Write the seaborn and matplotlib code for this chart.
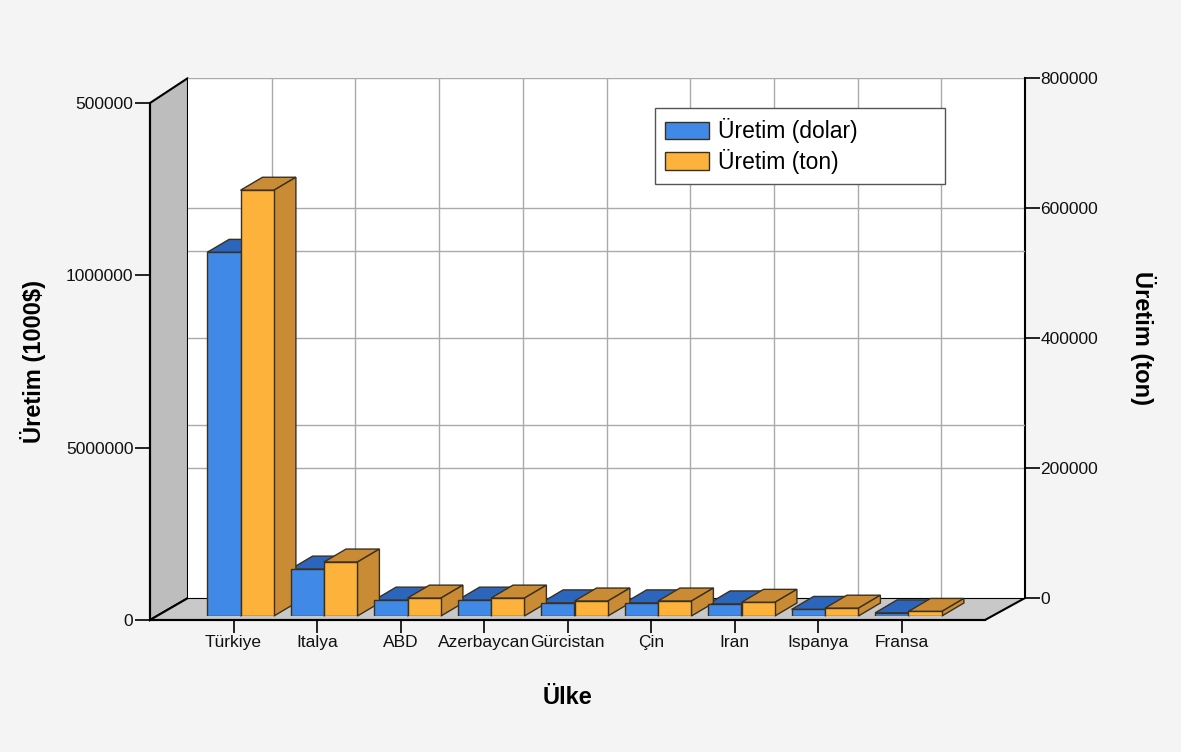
import matplotlib
matplotlib.use("Agg")
import pandas as pd
import matplotlib.pyplot as plt
import seaborn as sns
from matplotlib.patches import Polygon, Patch

# data
countries = ["Türkiye", "Italya", "ABD", "Azerbaycan", "Gürcistan", "Çin", "Iran", "Ispanya", "Fransa"]
uretim_dolar = [10550000, 1360000, 460000, 460000, 380000, 380000, 350000, 190000, 90000]
uretim_ton = [655000, 83000, 27500, 27500, 23000, 23000, 21000, 12000, 7000]
series = ["Üretim (dolar)", "Üretim (ton)"]

left_ticks = [0, 5000000, 10000000, 15000000]
left_tick_labels = ["0", "5000000", "1000000", "500000"]
right_ticks = [0, 200000, 400000, 600000, 800000]

# colours
BLUE, BLUE_DARK = "#4189e6", "#2c66bc"
ORANGE, ORANGE_DARK = "#fdb23c", "#c98c34"
EDGE = "#3a3020"

# layout in pixels of the 1181x752 picture
W, H = 1181, 752
FRONT = (150, 103, 985, 620)    # left wall front edge / floor front edge
BACK = (188, 78, 1025, 598)     # back wall
BARS = (157, 99, 992, 616)      # plane of the bar front faces
BDX, BDY = 22, 13               # bar depth


def box(left, top, right, bottom):
    return [left / W, 1 - bottom / H, (right - left) / W, (bottom - top) / H]


sns.set_theme(style="white")
plt.rcParams["font.family"] = ["Liberation Sans", "DejaVu Sans"]
plt.rcParams["text.color"] = "black"
plt.rcParams["axes.labelcolor"] = "black"

fig = plt.figure(figsize=(W / 100, H / 100), dpi=100)
fig.patch.set_facecolor("#f4f4f4")

# walls and floor
canvas = fig.add_axes([0, 0, 1, 1])
canvas.set_xlim(0, W)
canvas.set_ylim(H, 0)
canvas.axis("off")
fl, ft, fr, fb = FRONT
bl, bt, br, bb = BACK
canvas.add_patch(Polygon([(fl, ft), (bl, bt), (bl, bb), (fl, fb)],
                         closed=True, fc="#bdbdbd", ec="black", lw=1.5))
canvas.add_patch(Polygon([(fl, fb), (bl, bb), (br, bb), (fr, fb)],
                         closed=True, fc="#c8c8c8", ec="black", lw=1.5))

# back wall with both grids and the right axis
wall = fig.add_axes(box(*BACK))
wall_left = wall.twinx()
wall_left.set_ylim(0, 15000000)
wall_left.set_yticks(left_ticks[1:3])
wall_left.tick_params(axis="y", length=0, labelright=False, labelleft=False)
wall_left.grid(True, axis="y", color="#aaaaaa", lw=1)
wall_left.set_xlim(-1, 9)
for s in wall_left.spines.values():
    s.set_visible(False)

wall.set_facecolor("white")
wall.set_xlim(-1, 9)
wall.set_ylim(0, 800000)
wall.set_xticks(range(len(countries)))
wall.tick_params(axis="x", length=0, labelbottom=False)
wall.yaxis.tick_right()
wall.set_yticks(right_ticks)
wall.set_yticklabels([str(t) for t in right_ticks])
wall.tick_params(axis="y", direction="out", length=11, width=1.2, color="black",
                 labelsize=12.5, pad=0, labelcolor="#111111")
wall.grid(True, color="#aaaaaa", lw=1)
for side in ["top", "left", "bottom"]:
    wall.spines[side].set_visible(False)
wall.spines["right"].set_color("black")
wall.spines["right"].set_linewidth(1.5)
wall.yaxis.set_label_position("right")
wall.set_ylabel("Üretim (ton)", rotation=-90, fontsize=17, fontweight="bold",
                labelpad=42)

# bars
df = pd.DataFrame({
    "Ülke": countries * 2,
    "Seri": [series[0]] * len(countries) + [series[1]] * len(countries),
    "Değer": uretim_dolar + uretim_ton,
})
palette = {series[0]: BLUE, series[1]: ORANGE}

ax = fig.add_axes(box(*BARS))
ax2 = ax.twinx()
for axis, name in [(ax, series[0]), (ax2, series[1])]:
    sns.barplot(data=df[df["Seri"] == name], x="Ülke", y="Değer", hue="Seri",
                hue_order=series, order=countries, palette=palette, width=0.8,
                dodge=True, saturation=1, errorbar=None, edgecolor=EDGE,
                linewidth=1, legend=False, ax=axis)
bar_h = BARS[3] - BARS[1]
back_h = BACK[3] - BACK[1]
ax.set_xlim(-1, 9)
ax2.set_xlim(-1, 9)
ax.set_ylim(0, 15000000)
ax2.set_ylim(0, 800000 * bar_h / back_h)
ax.axis("off")
ax2.axis("off")

# 3d top and side faces, placed under the front faces
to_fig = fig.transFigure.inverted()
for axis, dark in [(ax, BLUE_DARK), (ax2, ORANGE_DARK)]:
    for p in axis.patches:
        x0, y0 = p.get_x(), p.get_y()
        (xa, ya), (xb, yb) = axis.transData.transform(
            [(x0, y0), (x0 + p.get_width(), y0 + p.get_height())])
        top = [(xa, yb), (xb, yb), (xb + BDX, yb + BDY), (xa + BDX, yb + BDY)]
        side = [(xb, ya), (xb + BDX, ya + BDY), (xb + BDX, yb + BDY), (xb, yb)]
        for pts in (top, side):
            ax.add_patch(Polygon(to_fig.transform(pts), closed=True, fc=dark,
                                 ec=EDGE, lw=1, transform=fig.transFigure,
                                 clip_on=False, zorder=0.5))

# front axis: left ticks and category labels
front = fig.add_axes(box(*FRONT))
front.patch.set_visible(False)
front.set_xlim(-1, 9)
front.set_ylim(0, 15000000)
front.set_xticks(range(len(countries)))
front.set_xticklabels(countries)
front.set_yticks(left_ticks)
front.set_yticklabels(left_tick_labels)
front.tick_params(axis="both", direction="out", width=1.2, color="black",
                  labelsize=12.5, labelcolor="#111111", left=True, bottom=True)
front.tick_params(axis="y", length=11, pad=1)
front.tick_params(axis="x", length=9, pad=2)
front.spines["top"].set_visible(False)
front.spines["right"].set_visible(False)
for side in ["left", "bottom"]:
    front.spines[side].set_color("black")
    front.spines[side].set_linewidth(1.5)
front.set_ylabel("Üretim (1000$)", fontsize=17, fontweight="bold", labelpad=14)
front.set_xlabel("Ülke", fontsize=17, fontweight="bold", labelpad=26)

# legend
fig.legend(handles=[Patch(fc=BLUE, ec=EDGE), Patch(fc=ORANGE, ec=EDGE)],
           labels=series, loc="upper left", mode="expand",
           bbox_to_anchor=(655 / W, 1 - 185 / H, 290 / W, 77 / H),
           frameon=True, fancybox=False, edgecolor="#555555", facecolor="white",
           framealpha=1, fontsize=16.5, handlelength=1.9, handleheight=0.8,
           handletextpad=0.4, borderpad=0.45, labelspacing=0.25,
           borderaxespad=0)

fig.savefig("out.png", dpi=100, facecolor=fig.get_facecolor())
